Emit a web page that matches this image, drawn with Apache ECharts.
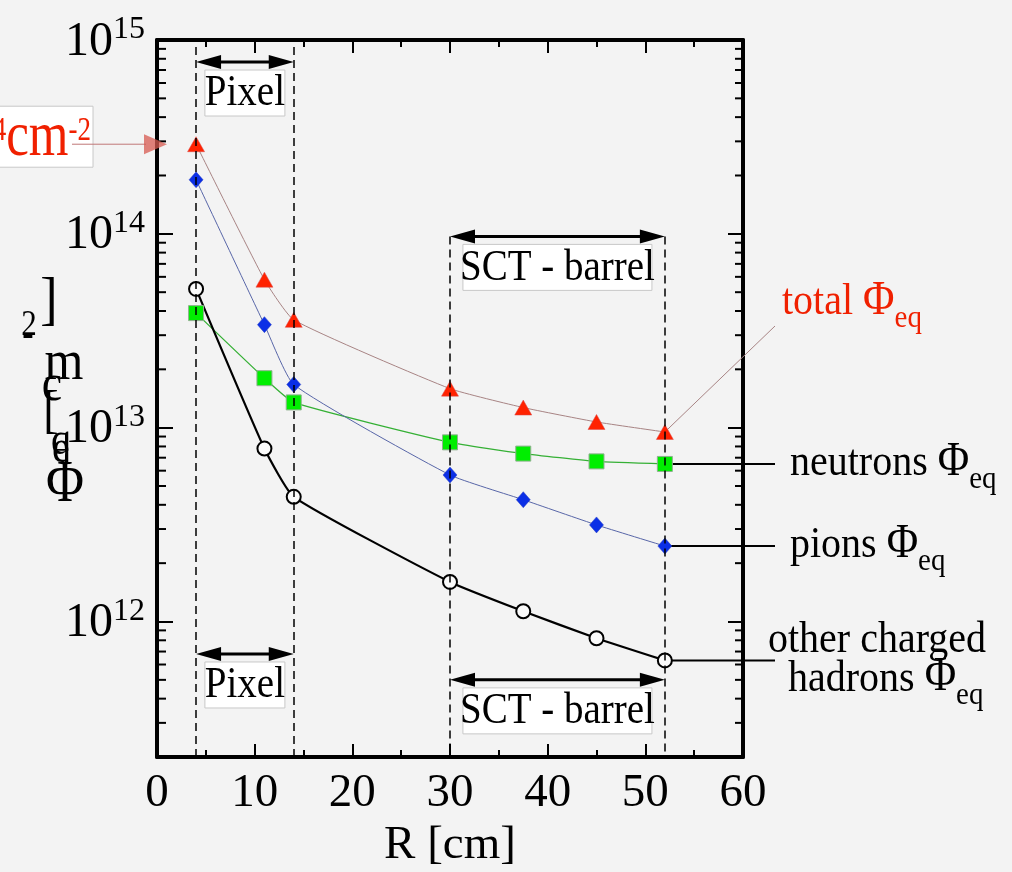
<!DOCTYPE html>
<html>
<head>
<meta charset="utf-8">
<script src="https://cdn.jsdelivr.net/npm/echarts@6/dist/echarts.min.js"></script>
<style>
  html, body { margin: 0; padding: 0; background: #f3f3f3; }
  #main { width: 1012px; height: 872px; }
</style>
</head>
<body>
<div id="main"></div>
<script>
    var F = 'Liberation Serif';
    var RED = '#f02000';

    // radius of the layers [cm]
    var radius = [4, 11, 14, 30, 37.5, 45, 52];
    // 1 MeV neutron equivalent fluence [cm^-2]
    var total = [2.9e14, 5.8e13, 3.6e13, 1.59e13, 1.27e13, 1.07e13, 9.5e12];
    var pions = [1.9e14, 3.4e13, 1.67e13, 5.7e12, 4.25e12, 3.15e12, 2.45e12];
    var neutrons = [3.9e13, 1.8e13, 1.35e13, 8.4e12, 7.35e12, 6.7e12, 6.5e12];
    var hadrons = [5.2e13, 7.8e12, 4.4e12, 1.6e12, 1.13e12, 8.2e11, 6.3e11];
    var xTicks = [0, 10, 20, 30, 40, 50, 60];

    var Y_MIN = 2e11, Y_MAX = 1e15;
    var pixelR = [4, 14], sctR = [30, 52];

    // log minor ticks 2..9 of each decade
    var minorVals = [];
    for (var e = 11; e < 15; e++) {
        for (var m = 2; m <= 9; m++) {
            var v = m * Math.pow(10, e);
            if (v > Y_MIN && v < Y_MAX) minorVals.push(v);
        }
    }

    function pairs(ys) {
        return radius.map(function (r, i) { return [r, ys[i]]; });
    }

    var chart = echarts.init(document.getElementById('main'));

    var frameLine = {onZero: false, lineStyle: {color: '#000', width: 4}};
    var xTick = {inside: true, length: 13, lineStyle: {color: '#000', width: 2}};
    var xMinor = {show: true, splitNumber: 2, length: 7, lineStyle: {color: '#000', width: 2}};

    var option = {
        backgroundColor: '#f3f3f3',
        animation: false,
        grid: {left: 157, right: 269, top: 40, bottom: 115, outerBoundsMode: 'none'},
        xAxis: [
            {
                type: 'value', min: xTicks[0], max: xTicks[xTicks.length - 1], interval: 10,
                position: 'bottom',
                axisLine: frameLine, axisTick: xTick, minorTick: xMinor,
                splitLine: {show: false}, minorSplitLine: {show: false},
                axisLabel: {fontFamily: F, fontSize: 47, color: '#000', margin: 13},
                name: 'R [cm]', nameLocation: 'middle', nameGap: 62,
                nameTextStyle: {fontFamily: F, fontSize: 47, color: '#000'}
            },
            {
                type: 'value', min: 0, max: 60, interval: 10, position: 'top',
                axisLine: frameLine, axisTick: xTick, minorTick: xMinor,
                splitLine: {show: false}, axisLabel: {show: false}
            }
        ],
        yAxis: [
            {
                type: 'log', logBase: 10, min: Y_MIN, max: Y_MAX, position: 'left',
                axisLine: frameLine,
                axisTick: {inside: true, length: 16, lineStyle: {color: '#000', width: 2}},
                splitLine: {show: false},
                axisLabel: {
                    margin: 12,
                    formatter: function (val) {
                        var l = Math.log10(val), r = Math.round(l);
                        if (Math.abs(l - r) > 1e-6) return '';
                        return '{b|10}{s|' + r + '}';
                    },
                    rich: {
                        b: {fontFamily: F, fontSize: 48, color: '#000', verticalAlign: 'bottom'},
                        s: {fontFamily: F, fontSize: 32, color: '#000', verticalAlign: 'bottom', padding: [0, 0, 20, 0]}
                    }
                }
            },
            {
                type: 'log', logBase: 10, min: Y_MIN, max: Y_MAX, position: 'right',
                axisLine: frameLine,
                axisTick: {inside: true, length: 15, lineStyle: {color: '#000', width: 2}},
                splitLine: {show: false}, axisLabel: {show: false}
            }
        ],
        series: [
            {
                name: 'minor ticks', type: 'custom', silent: true, z: 3,
                data: minorVals.map(function (v) { return [0, v]; }),
                renderItem: function (params, api) {
                    var v = api.value(1);
                    var l = api.coord([0, v]), r = api.coord([60, v]);
                    var st = {stroke: '#000', lineWidth: 2};
                    return {
                        type: 'group',
                        children: [
                            {type: 'line', shape: {x1: l[0], y1: l[1], x2: l[0] + 9, y2: l[1]}, style: st},
                            {type: 'line', shape: {x1: r[0] - 8, y1: r[1], x2: r[0], y2: r[1]}, style: st}
                        ]
                    };
                }
            },
            {
                name: 'neutrons', type: 'line', smooth: 0.15, data: pairs(neutrons),
                symbol: 'rect', symbolSize: 15,
                lineStyle: {color: '#35b035', width: 1.3},
                itemStyle: {color: '#00ee00', borderColor: '#8fb08f', borderWidth: 1}
            },
            {
                name: 'pions', type: 'line', smooth: 0.15, data: pairs(pions),
                symbol: 'diamond', symbolSize: [14, 16],
                lineStyle: {color: '#5866a8', width: 1},
                itemStyle: {color: '#0b2fe6', borderColor: '#2a40c0', borderWidth: 0.5}
            },
            {
                name: 'total', type: 'line', smooth: 0.15, data: pairs(total),
                symbol: 'triangle', symbolSize: [17, 15],
                lineStyle: {color: '#a88484', width: 1},
                itemStyle: {color: '#ff2200', borderColor: '#d84a4a', borderWidth: 0.5}
            },
            {
                name: 'hadrons', type: 'line', smooth: 0.15, data: pairs(hadrons),
                symbol: 'circle', symbolSize: 14,
                lineStyle: {color: '#000', width: 2.2},
                itemStyle: {color: '#fafafa', borderColor: '#000', borderWidth: 2},
                markLine: {
                    silent: true, symbol: 'none', animation: false,
                    label: {show: false},
                    lineStyle: {type: [8, 5], color: '#000', width: 1.5},
                    data: [
                        {xAxis: pixelR[0]},
                        {xAxis: pixelR[1]},
                        [{coord: [sctR[0], 9.7e13]}, {coord: [sctR[0], Y_MIN]}],
                        [{coord: [sctR[1], 9.7e13]}, {coord: [sctR[1], Y_MIN]}]
                    ]
                }
            }
        ]
    };
    chart.setOption(option);

    // ---- annotations, placed through the chart's own scales ----
    function px(x, y) {
        return chart.convertToPixel({xAxisIndex: 0, yAxisIndex: 0}, [x, y]);
    }

    function arrow(x0, x1, yv) {
        var a = px(x0, yv), b = px(x1, yv);
        var y = a[1], L = 25, H = 7;
        return [
            {type: 'line', z: 20, shape: {x1: a[0] + 10, y1: y, x2: b[0] - 10, y2: y}, style: {stroke: '#000', lineWidth: 3}},
            {type: 'polygon', z: 20, shape: {points: [[a[0], y], [a[0] + L, y - H], [a[0] + L, y + H]]}, style: {fill: '#000'}},
            {type: 'polygon', z: 20, shape: {points: [[b[0], y], [b[0] - L, y - H], [b[0] - L, y + H]]}, style: {fill: '#000'}}
        ];
    }

    function box(x0, x1, yv, w, txt) {
        var c = px((x0 + x1) / 2, yv);
        var cy = c[1] + 31;
        return [
            {type: 'rect', z: 21, shape: {x: c[0] - w / 2, y: cy - 23, width: w, height: 46},
                style: {fill: '#fff', stroke: '#c8c8c8', lineWidth: 1}},
            {type: 'text', z: 22, x: c[0], y: cy + 1, scaleY: 1.12,
                style: {text: txt, fontFamily: F, fontSize: 39, fill: '#000', align: 'center', verticalAlign: 'middle'}}
        ];
    }

    function phiLabel(x, y, pre, color) {
        return {
            type: 'text', z: 22, x: x, y: y, scaleY: 1.12,
            style: {
                text: '{a|' + pre + '}{p|Φ}{s|eq}',
                align: 'left', verticalAlign: 'middle',
                rich: {
                    a: {fontFamily: F, fontSize: 40, fill: color, verticalAlign: 'bottom', padding: [0, 0, 9, 0]},
                    p: {fontFamily: F, fontSize: 43, fill: color, verticalAlign: 'bottom', padding: [0, 0, 9, 0]},
                    s: {fontFamily: F, fontSize: 29, fill: color, verticalAlign: 'bottom'}
                }
            }
        };
    }

    var g = [];
    g = g.concat(arrow(pixelR[0], pixelR[1], 7.7e14), box(pixelR[0], pixelR[1], 7.7e14, 80, 'Pixel'));
    g = g.concat(arrow(pixelR[0], pixelR[1], 6.8e11), box(pixelR[0], pixelR[1], 6.8e11, 80, 'Pixel'));
    g = g.concat(arrow(sctR[0], sctR[1], 9.7e13), box(sctR[0], sctR[1], 9.7e13, 189, 'SCT - barrel'));
    g = g.concat(arrow(sctR[0], sctR[1], 5.0e11), box(sctR[0], sctR[1], 5.0e11, 189, 'SCT - barrel'));

    // leader lines from the last point of each curve
    var last = radius.length - 1;
    var pT = px(radius[last], total[last]);
    var pN = px(radius[last], neutrons[last]);
    var pP = px(radius[last], pions[last]);
    var pH = px(radius[last], hadrons[last]);
    g.push({type: 'line', z: 1, shape: {x1: pT[0], y1: pT[1], x2: 775, y2: 326}, style: {stroke: '#a88484', lineWidth: 1}});
    [pN, pP, pH].forEach(function (p) {
        g.push({type: 'line', z: 1, shape: {x1: p[0], y1: p[1], x2: 775, y2: p[1]}, style: {stroke: '#000', lineWidth: 2}});
    });
    g.push(phiLabel(782, 306, 'total ', RED));
    g.push(phiLabel(790, pN[1] + 3, 'neutrons ', '#000'));
    g.push(phiLabel(790, pP[1] + 3, 'pions ', '#000'));
    g.push({type: 'text', z: 22, x: 877, y: pH[1] - 20, scaleY: 1.12,
        style: {text: 'other charged', fontFamily: F, fontSize: 40, fill: '#000', align: 'center', verticalAlign: 'middle'}});
    g.push(phiLabel(788, pH[1] + 22, 'hadrons ', '#000'));

    // red fluence marker at the innermost pixel layer (text runs off the left edge)
    var p0 = px(radius[0], total[0]);
    g.push({type: 'rect', z: 21, shape: {x: -2, y: p0[1] - 38, width: 95, height: 61},
        style: {fill: '#fff', stroke: '#c8c8c8', lineWidth: 1}});
    g.push({type: 'text', z: 22, x: 91, y: p0[1] - 6, scaleY: 1.25,
        style: {
            text: '{b|3×10}{s|14}{b|cm}{s|-2}', align: 'right', verticalAlign: 'middle',
            rich: {
                b: {fontFamily: F, fontSize: 51, fill: RED, verticalAlign: 'bottom'},
                s: {fontFamily: F, fontSize: 27, fill: RED, verticalAlign: 'bottom', padding: [0, 0, 18, 0]}
            }
        }});
    g.push({type: 'line', z: 23, shape: {x1: 72, y1: p0[1], x2: 146, y2: p0[1]}, style: {stroke: '#c07878', lineWidth: 1}});
    g.push({type: 'polygon', z: 23, shape: {points: [[144, p0[1] - 10], [144, p0[1] + 10], [167, p0[1]]]},
        style: {fill: 'rgba(215,90,80,0.75)'}});

    // y axis title, characters stacked as in the original print
    var yTitle = [
        {ch: ']', x: 49, y: 302, s: 52},
        {ch: '2', x: 29, y: 326, s: 31},
        {ch: '-', x: 28, y: 336, s: 34},
        {ch: 'm', x: 64, y: 364, s: 50},
        {ch: 'c', x: 52, y: 386, s: 46},
        {ch: '[', x: 51, y: 413, s: 46},
        {ch: 'q', x: 61, y: 442, s: 40},
        {ch: 'e', x: 61, y: 450, s: 40},
        {ch: 'Φ', x: 65, y: 485, s: 52}
    ];
    yTitle.forEach(function (t) {
        g.push({type: 'text', z: 22, x: t.x, y: t.y, scaleY: 1.15,
            style: {text: t.ch, fontFamily: F, fontSize: t.s, fill: '#000', align: 'center', verticalAlign: 'middle'}});
    });

    chart.setOption({graphic: {elements: g}});
</script>
</body>
</html>
